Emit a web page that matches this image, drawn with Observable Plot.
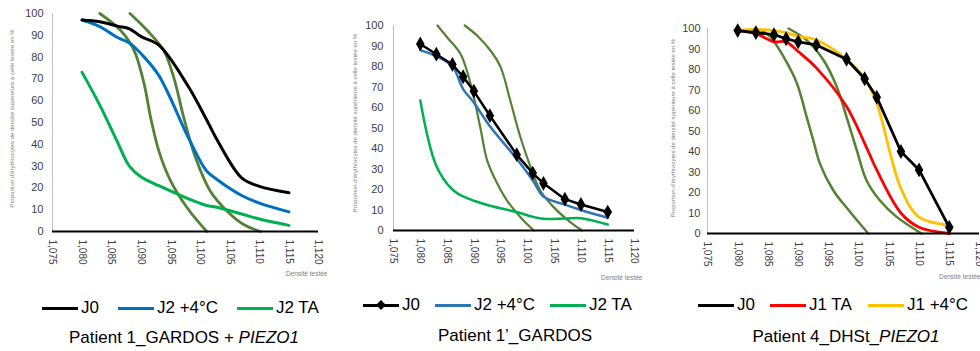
<!DOCTYPE html>
<html><head><meta charset="utf-8">
<script src="https://cdn.jsdelivr.net/npm/d3@7"></script>
<script src="https://cdn.jsdelivr.net/npm/@observablehq/plot@0.6"></script>
<style>
html,body{margin:0;padding:0;background:#fff;overflow:hidden;width:980px;height:351px;}
#root{position:relative;width:980px;height:351px;overflow:hidden;font-family:"Liberation Sans",Arial,sans-serif;color:#000;}
.panel{position:absolute;top:0;}
.leg{position:absolute;display:flex;align-items:center;height:22px;transform:translateY(-50%);font-size:17px;white-space:nowrap;}
.sw{display:inline-block;width:36px;height:3px;margin-right:3px;position:relative;}
.dm{position:absolute;left:50%;top:50%;width:7px;height:7px;background:#000;transform:translate(-50%,-50%) rotate(45deg);}
.title{position:absolute;font-size:17px;white-space:nowrap;transform:translate(-50%,-50%);}
</style></head><body><div id="root"></div>
<script>
// ---------- data ----------
const xTicks = [1.075, 1.080, 1.085, 1.090, 1.095, 1.100, 1.105, 1.110, 1.115, 1.120];
const yTicks = [0, 10, 20, 30, 40, 50, 60, 70, 80, 90, 100];
const densities = [1.080, 1.083, 1.086, 1.088, 1.090, 1.093, 1.098, 1.101, 1.103, 1.107, 1.110, 1.115];

// Patient 1_GARDOS + PIEZO1
const p1_J0   = [97, 96.2, 94.2, 93, 89.4, 85.5, 66.4, 51.6, 41.3, 24.6, 20.7, 17.8];
const p1_J2_4 = [97, 94, 89, 86.5, 81.5, 71.5, 43, 28, 23.5, 16.5, 13, 9];
const p1_J2TA = [73, 58, 41, 30, 25, 21, 15, 12, 11, 8, 5.7, 2.8];
const p1_refA = [[1.0830,100],[1.0865,92.3],[1.0888,83.1],[1.0905,67.7],[1.0916,52.3],[1.0930,36.9],[1.0950,23.1],[1.0978,10.8],[1.1011,0]];
const p1_refB = [[1.0881,100],[1.0910,92.3],[1.0938,83.1],[1.0955,70.8],[1.0972,52.3],[1.0992,33.8],[1.1017,18.5],[1.1046,9.2],[1.1074,3.1],[1.1102,0]];

// Patient 1'_GARDOS
const p2_J0   = [91, 86, 81, 75, 68, 56, 37, 28, 23, 15.3, 12.7, 9];
const p2_J2_4 = [88, 85, 80, 69, 62.4, 50.8, 35, 24.5, 16.6, 12.6, 10, 6.2];
const p2_J2TA = [63.4, 31.5, 20, 16.6, 14.5, 12.1, 9, 6.7, 5.7, 5.8, 6, 2.9];
const p2_refA = [[1.0832,100],[1.0850,94.3],[1.0875,86.2],[1.0894,71.5],[1.0912,50.4],[1.0925,34.1],[1.0944,22.8],[1.0962,14.6],[1.0987,6.5],[1.1012,0]];
const p2_refB = [[1.0883,100],[1.0906,95.1],[1.0931,87.8],[1.0950,79.7],[1.0968,63.4],[1.0987,45.5],[1.1006,30.9],[1.1024,19.5],[1.1049,11.4],[1.1080,4.1],[1.1102,0]];

// Patient 4_DHSt_PIEZO1
const p3_J0   = [99, 98, 97, 95, 93.5, 92, 85, 75.5, 66.5, 40, 31, 3];
const p3_J1TA = [99, 97.5, 93.5, 93.5, 88.8, 80.8, 62, 44, 31, 10, 3, 0];
const p3_J1_4 = [99.2, 99.5, 99, 98, 96.2, 94.4, 85, 75.8, 63.5, 22, 8, 4];
const p3_refA = [[1.0837,99.5],[1.0854,95.9],[1.0876,86.1],[1.0898,73.2],[1.0914,56.9],[1.0925,45.5],[1.0936,34.1],[1.0958,21.1],[1.0986,10.5],[1.1016,0]];
const p3_refB = [[1.0884,100],[1.0914,94.3],[1.0942,84.5],[1.0964,71.5],[1.0980,56.9],[1.0997,40.6],[1.1013,26],[1.1035,16.2],[1.1063,8.1],[1.1104,0]];

const yTitle = "Proportion d'érythrocytes de densité supérieure à celle testée en %";
const xTitle = "Densité testée";

// ---------- drawing ----------
const OLIVE = "#548235";
const FONT = "'Liberation Sans', Arial, sans-serif";
const root = document.getElementById("root");
const fmt = d => d.toFixed(3).replace(".", ",");

function rows(vals) { return densities.map((d, i) => ({d, v: vals[i]})); }

function makePanel(c) {
  const marks = [
    Plot.ruleX([1.075], {y1: 0, y2: 100, stroke: "#bfbfbf", strokeWidth: 1}),
  ];
  c.refs.forEach(r => marks.push(Plot.line(r, {x: d => d[0], y: d => d[1], stroke: OLIVE, strokeWidth: c.refWidth, curve: "catmull-rom"})));
  c.series.forEach(s => {
    marks.push(Plot.line(rows(s.values), {x: "d", y: "v", stroke: s.color, strokeWidth: c.lineWidth, curve: s.curve || "catmull-rom"}));
    if (s.markers) marks.push(Plot.dot(rows(s.values), {x: "d", y: "v", symbol: "diamond", r: 4.5, fill: s.color, stroke: "none"}));
  });
  marks.push(Plot.ruleY([0], {stroke: "#000", strokeWidth: 2}));
  marks.push(Plot.axisY({ticks: yTicks, tickSize: 0, tickPadding: c.yPad, fontSize: 11, label: null}));
  marks.push(Plot.axisX({ticks: xTicks, tickSize: 0, tickPadding: 8, tickRotate: 90, tickFormat: fmt, fontSize: 10, label: null}));
  marks.push(Plot.text([yTitle], {frameAnchor: "left", textAnchor: "middle", rotate: -90, dx: c.ytDx, dy: c.ytDy, fontSize: 6, fill: "#808080"}));
  marks.push(Plot.text([xTitle], {frameAnchor: "bottom-right", textAnchor: "end", dx: c.xtDx, dy: c.xtDy, fontSize: 6.5, fill: "#808080"}));
  const svg = Plot.plot({
    width: c.width, height: 285,
    marginLeft: c.ml, marginRight: c.mr, marginTop: c.mt, marginBottom: c.mb,
    x: {domain: [1.075, 1.120], label: null},
    y: {domain: [0, 100], label: null},
    style: {fontFamily: FONT, color: "#404040", background: "transparent", overflow: "visible"},
    marks
  });
  const div = document.createElement("div");
  div.className = "panel";
  div.style.left = c.left + "px";
  div.style.width = c.width + "px";
  div.appendChild(svg);
  root.appendChild(div);
}

function addLegend(items, top) {
  items.forEach(it => {
    const el = document.createElement("div");
    el.className = "leg";
    el.style.left = it.x + "px";
    el.style.top = top + "px";
    el.innerHTML = `<span class="sw" style="background:${it.color}">${it.diamond ? '<i class="dm"></i>' : ''}</span><span>${it.label}</span>`;
    root.appendChild(el);
  });
}
function addTitle(html, cx, cy) {
  const el = document.createElement("div");
  el.className = "title";
  el.style.left = cx + "px";
  el.style.top = cy + "px";
  el.innerHTML = html;
  root.appendChild(el);
}

makePanel({left: 0, width: 330, ml: 52, mr: 12, mt: 13, mb: 54, yPad: 9, ytDx: -40, ytDy: -4, xtDx: 9, xtDy: 44,
  lineWidth: 3, refWidth: 2.8, refs: [p1_refA, p1_refB],
  series: [
    {values: p1_J2TA, color: "#00B050"},
    {values: p1_J2_4, color: "#0070C0"},
    {values: p1_J0, color: "#000000"}
  ]});
makePanel({left: 320, width: 330, ml: 73, mr: 16, mt: 25, mb: 55, yPad: 10, ytDx: -38, ytDy: -5, xtDx: 8, xtDy: 49,
  lineWidth: 2.5, refWidth: 2.2, refs: [p2_refA, p2_refB],
  series: [
    {values: p2_J2TA, color: "#00B050"},
    {values: p2_J2_4, color: "#2E75B6"},
    {values: p2_J0, color: "#000000", curve: "linear", markers: true}
  ]});
makePanel({left: 650, width: 345, ml: 57, mr: 16, mt: 28, mb: 52, yPad: 7, ytDx: -34, ytDy: -3, xtDx: 1, xtDy: 45,
  lineWidth: 2.8, refWidth: 2.5, refs: [p3_refA, p3_refB],
  series: [
    {values: p3_J1TA, color: "#FF0000"},
    {values: p3_J1_4, color: "#FFC000"},
    {values: p3_J0, color: "#000000", curve: "linear", markers: true}
  ]});

addLegend([
  {x: 42, color: "#000000", label: "J0"},
  {x: 118, color: "#0070C0", label: "J2 +4°C"},
  {x: 237, color: "#00B050", label: "J2 TA"}
], 308);
addLegend([
  {x: 363, color: "#000000", label: "J0", diamond: true},
  {x: 435, color: "#2E75B6", label: "J2 +4°C"},
  {x: 550, color: "#00B050", label: "J2 TA"}
], 305);
addLegend([
  {x: 698, color: "#000000", label: "J0"},
  {x: 770, color: "#FF0000", label: "J1 TA"},
  {x: 868, color: "#FFC000", label: "J1 +4°C"}
], 305);

addTitle("Patient 1_GARDOS + <i>PIEZO1</i>", 184, 338);
addTitle("Patient 1’_GARDOS", 515, 336);
addTitle("Patient 4_DHSt_<i>PIEZO1</i>", 846, 337);
</script>
</body></html>
